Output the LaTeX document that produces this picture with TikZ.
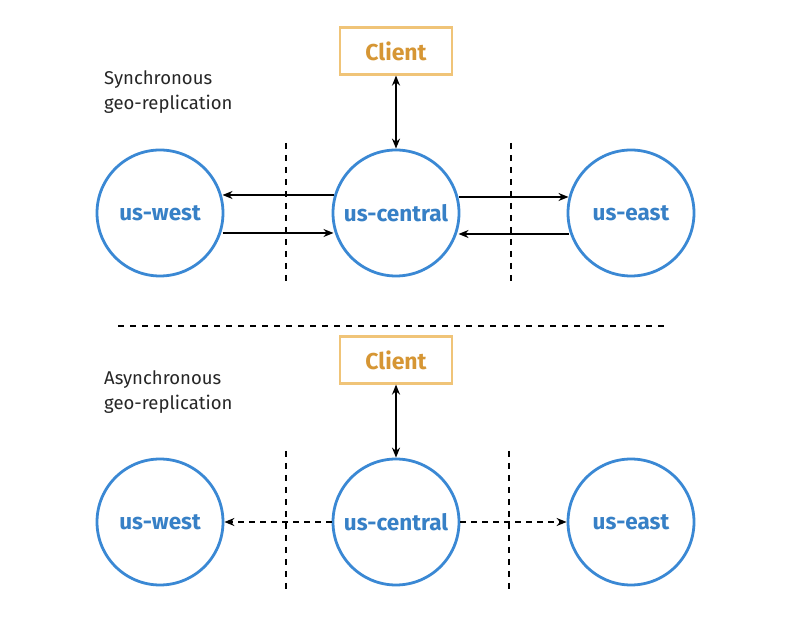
\documentclass[tikz,border=0pt]{standalone}
\usepackage{fontspec}
\setmainfont{Fira Sans}
\usetikzlibrary{arrows.meta,calc}
\definecolor{nodeblue}{RGB}{58,136,212}
\definecolor{labelblue}{RGB}{55,128,198}
\definecolor{clientborder}{RGB}{240,196,120}
\definecolor{clienttext}{RGB}{214,150,52}
\begin{document}
\begin{tikzpicture}[x=1pt,y=1pt,
  region/.style={circle,draw=nodeblue,line width=2.8pt,minimum size=126pt,inner sep=0pt,
    font=\fontsize{22.5}{26}\selectfont\bfseries,text=labelblue},
  clientbox/.style={draw=clientborder,line width=2.2pt,minimum width=112pt,minimum height=47pt,
    inner sep=0pt,font=\fontsize{23}{26}\selectfont\bfseries,text=clienttext},
  caption/.style={align=left,anchor=north west,inner sep=0pt,font=\fontsize{18.5}{25}\selectfont,text=black!85},
  link/.style={line width=1.8pt,-{Stealth[length=10pt,width=8pt]}},
  duplex/.style={line width=1.8pt,{Stealth[length=10pt,width=8pt]}-{Stealth[length=10pt,width=8pt]}},
  asynclink/.style={line width=1.8pt,dash pattern=on 6pt off 5pt,-{Stealth[length=10pt,width=8pt]}},
  divider/.style={line width=1.6pt,dash pattern=on 6pt off 6pt}]
\useasboundingbox (0,0) rectangle (800,618);
\fill[white] (0,0) rectangle (800,618);

% ---------- top (synchronous) ----------
\node[clientbox] (c1) at (396,567) {Client};
\node[caption] (t1) at (104,548) {Synchronous\\geo-replication};
\node[region] (w1) at (160,405) {us-west};
\node[region] (m1) at (396,405) {us-central};
\node[region] (e1) at (631,405) {us-east};
\draw[duplex] (c1.south) -- (m1.north);
\draw[link] ($(m1.center)+(-62.5,18)$) -- ($(w1.center)+(62.5,18)$);
\draw[link] ($(w1.center)+(62.5,-20)$) -- ($(m1.center)+(-62.5,-20)$);
\draw[link] ($(m1.center)+(62.5,16)$) -- ($(e1.center)+(-62.5,16)$);
\draw[link] ($(e1.center)+(-62.5,-21)$) -- ($(m1.center)+(62.5,-21)$);
\coordinate (d1a) at (286,475); \coordinate (d1b) at (286,335);
\coordinate (d2a) at (511,475); \coordinate (d2b) at (511,335);
\draw[divider] (d1a) -- (d1b);
\draw[divider] (d2a) -- (d2b);

% ---------- middle divider ----------
\coordinate (h1) at (118,292); \coordinate (h2) at (665,292);
\draw[divider] (h1) -- (h2);

% ---------- bottom (asynchronous) ----------
\node[clientbox] (c2) at (396,258) {Client};
\node[caption] (t2) at (104,248) {Asynchronous\\geo-replication};
\node[region] (w2) at (160,96) {us-west};
\node[region] (m2) at (396,96) {us-central};
\node[region] (e2) at (631,96) {us-east};
\draw[duplex] (c2.south) -- (m2.north);
\draw[asynclink] (m2.west) -- (w2.east);
\draw[asynclink] (m2.east) -- (e2.west);
\coordinate (d3a) at (286,167); \coordinate (d3b) at (286,27);
\coordinate (d4a) at (509,167); \coordinate (d4b) at (509,27);
\draw[divider] (d3a) -- (d3b);
\draw[divider] (d4a) -- (d4b);
\end{tikzpicture}
\end{document}
